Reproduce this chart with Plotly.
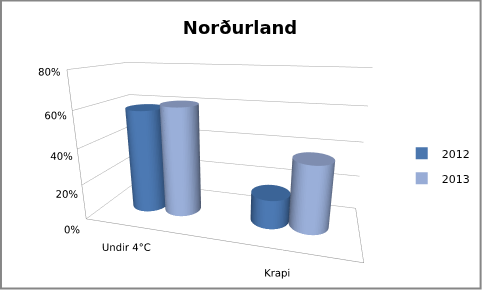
import numpy as np
import plotly.graph_objects as go

categories = ["Undir 4°C", "Krapi"]
series_names = ["2012", "2013"]
values_2012 = [0.58, 0.16]
values_2013 = [0.61, 0.37]
z_ticks = [0, 0.2, 0.4, 0.6, 0.8]

colors = {"2012": "#4572AC", "2013": "#93A8D2"}
legend_colors = {"2012": "#4A76AE", "2013": "#98ACD6"}
cap_colors = {"2012": "#3B6497", "2013": "#7E8DB0"}

W, H = 484, 291
ASP = dict(x=1.85, y=0.7, z=1.04)
XR, YR, ZR = [0, 2], [0, 1], [0, 0.8]

fig = go.Figure()

R = 0.145
rx = R
ry = R * (ASP["x"] / (XR[1] - XR[0])) / (ASP["y"] / (YR[1] - YR[0]))

theta = np.linspace(0, 2 * np.pi, 72)
offsets = {"2012": -0.145, "2013": 0.145}
series_vals = {"2012": values_2012, "2013": values_2013}

for s in series_names:
    for i, cat in enumerate(categories):
        h = series_vals[s][i]
        cx = i + 0.5 + offsets[s]
        cy = 0.5
        zz = np.array([0.0, h])
        TH, ZZ = np.meshgrid(theta, zz)
        X = cx + rx * np.cos(TH)
        Y = cy + ry * np.sin(TH)
        fig.add_trace(go.Surface(
            x=X, y=Y, z=ZZ,
            surfacecolor=np.zeros_like(ZZ),
            colorscale=[[0, colors[s]], [1, colors[s]]],
            showscale=False, showlegend=False, hoverinfo="skip",
            lighting=dict(ambient=0.5, diffuse=0.6, specular=0.05,
                          roughness=0.8, fresnel=0.1),
            lightposition=dict(x=-300, y=-1000, z=100),
        ))
        rr = np.linspace(0, 1, 2)
        TH2, RR = np.meshgrid(theta, rr)
        X2 = cx + rx * RR * np.cos(TH2)
        Y2 = cy + ry * RR * np.sin(TH2)
        Z2 = np.full_like(X2, h)
        fig.add_trace(go.Surface(
            x=X2, y=Y2, z=Z2,
            surfacecolor=np.zeros_like(Z2),
            colorscale=[[0, cap_colors[s]], [1, cap_colors[s]]],
            showscale=False, showlegend=False, hoverinfo="skip",
            lighting=dict(ambient=1.0, diffuse=0.0, specular=0.0, fresnel=0.0),
        ))

for s in series_names:
    fig.add_trace(go.Scatter3d(
        x=[None], y=[None], z=[None], mode="markers", name=s, legendgroup=s,
        marker=dict(symbol="square", size=7, color=legend_colors[s]),
        showlegend=True,
    ))

axis_common = dict(showbackground=False, showspikes=False, title=dict(text=""),
                   linecolor="#8c8c8c", linewidth=1, zeroline=False)

fig.update_layout(
    width=W, height=H,
    margin=dict(l=0, r=0, t=0, b=0),
    paper_bgcolor="white",
    title=dict(text="<b>Norðurland</b>", x=0.496, xanchor="center", y=0.905, yanchor="middle",
               font=dict(family="DejaVu Sans", size=18, color="black")),
    showlegend=True,
    legend=dict(x=0.83, y=0.43, xanchor="left", yanchor="middle",
                font=dict(family="DejaVu Sans", size=11, color="black"),
                itemsizing="constant", tracegroupgap=6, bgcolor="rgba(0,0,0,0)"),
    scene=dict(
        domain=dict(x=[0.025, 0.905], y=[0.0, 1.0]),
        aspectmode="manual", aspectratio=ASP,
        camera=dict(eye=dict(x=0.638, y=-2.225, z=0.708), center=dict(x=0, y=0, z=0.0),
                    up=dict(x=0, y=0, z=1), projection=dict(type="perspective")),
        xaxis=dict(range=XR, tickvals=[0.5, 1.5], ticktext=categories, showgrid=False,
                   showline=True, ticks="outside", ticklen=9, tickcolor="rgba(0,0,0,0)",
                   tickangle=0,
                   tickfont=dict(family="DejaVu Sans", size=11, color="black"),
                   **axis_common),
        yaxis=dict(range=YR, showticklabels=False, showgrid=False, showline=True, ticks="",
                   **axis_common),
        zaxis=dict(range=ZR, tickvals=z_ticks, tickformat=".0%", showgrid=True,
                   gridcolor="#a6a6a6", gridwidth=1, showline=True, ticks="", tickangle=0,
                   tickfont=dict(family="DejaVu Sans", size=11, color="black"),
                   **axis_common),
    ),
    shapes=[dict(type="rect", xref="paper", yref="paper", x0=0.002, x1=0.993, y0=0.009, y1=0.998,
                 line=dict(color="#868686", width=2), fillcolor="rgba(0,0,0,0)")],
)

fig.write_html("out.html")
